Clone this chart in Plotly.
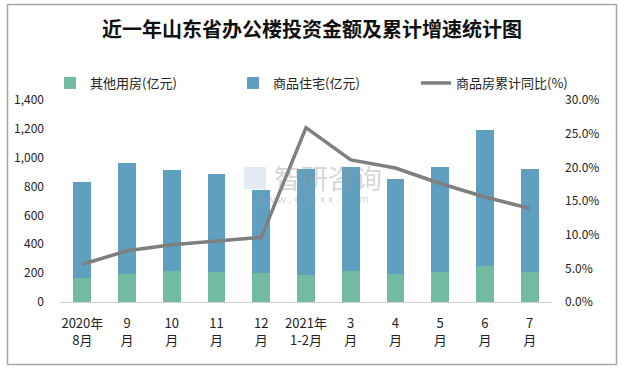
import plotly.graph_objects as go

months = ["2020年<br>8月", "9<br>月", "10<br>月", "11<br>月", "12<br>月", "2021年<br>1-2月",
          "3<br>月", "4<br>月", "5<br>月", "6<br>月", "7<br>月"]
other_use = [166, 194, 213, 206, 199, 185, 213, 194, 206, 249, 206]
residential = [665, 769, 702, 681, 577, 734, 722, 658, 729, 943, 715]
growth = [0.056, 0.076, 0.085, 0.090, 0.096, 0.259, 0.211, 0.199, 0.176, 0.156, 0.139]

FONT = "Noto Sans CJK SC"

fig = go.Figure()
fig.add_trace(go.Bar(x=months, y=other_use, name="其他用房(亿元)",
                     marker=dict(color="#72BBA1", line=dict(width=0))))
fig.add_trace(go.Bar(x=months, y=residential, name="商品住宅(亿元)",
                     marker=dict(color="#5FA0C0", line=dict(width=0))))
fig.add_trace(go.Scatter(x=months, y=growth, name="商品房累计同比(%)", yaxis="y2",
                         mode="lines", line=dict(color="#7F7F7F", width=3.5)))

L, R, T, B = 60, 72, 100, 67
PW, PH = 624 - L - R, 369 - T - B

def px(x):
    return (x - L) / PW

def py(y):
    return (369 - B - y) / PH

fig.update_layout(
    width=624, height=369,
    margin=dict(l=L, r=R, t=T, b=B, pad=0, autoexpand=False),
    paper_bgcolor="white", plot_bgcolor="white",
    barmode="stack", bargap=0.6,
    font=dict(family=FONT, size=12, color="#222222"),
    title=dict(text="<b>近一年山东省办公楼投资金额及累计增速统计图</b>", x=0.5, xanchor="center",
               y=1 - 30 / 369, yanchor="middle", font=dict(family=FONT, size=20, color="#111111")),
    showlegend=True,
    legend=dict(orientation="h", x=px(50), xanchor="left", y=py(83), yanchor="middle",
                font=dict(family=FONT, size=13, color="#222222"), entrywidth=138,
                itemwidth=30, bgcolor="rgba(0,0,0,0)", traceorder="normal"),
    xaxis=dict(showline=True, linecolor="#D0D0D0", linewidth=1, ticks="", showgrid=False,
               automargin=False, ticklabelstandoff=9,
               tickfont=dict(family=FONT, size=13, color="#222222")),
    yaxis=dict(range=[0, 1400], dtick=200, tickformat=",", showgrid=False, zeroline=False,
               automargin=False, showline=False, ticks="", ticklabelstandoff=15,
               tickfont=dict(family=FONT, size=12, color="#222222")),
    yaxis2=dict(range=[0, 0.30], dtick=0.05, tickformat=".1%", overlaying="y", side="right",
                automargin=False, showgrid=False, zeroline=False, showline=False, ticks="",
                ticklabelstandoff=12, tickfont=dict(family=FONT, size=12, color="#222222")),
)

# outer chart border
fig.add_shape(type="rect", xref="paper", yref="paper",
              x0=px(7.5), x1=px(616.5), y0=py(364.5), y1=py(4.5),
              line=dict(color="#A6A6A6", width=1.5), fillcolor="rgba(0,0,0,0)", layer="below")

# watermark
fig.add_annotation(text="智研咨询", xref="paper", yref="paper", x=px(328), y=py(177),
                   showarrow=False, font=dict(family=FONT, size=27, color="rgba(150,150,150,0.4)"))
fig.add_annotation(text="w w w . c h y x x . c o m", xref="paper", yref="paper", x=px(312), y=py(198),
                   showarrow=False, font=dict(family=FONT, size=11, color="rgba(150,150,150,0.4)"))
fig.add_shape(type="rect", xref="paper", yref="paper", x0=px(244), x1=px(266), y0=py(189), y1=py(167),
              line=dict(width=0), fillcolor="rgba(170,190,220,0.3)")

fig.write_html("out.html", config={"displayModeBar": False},
               post_script="document.body.style.margin='0';")
